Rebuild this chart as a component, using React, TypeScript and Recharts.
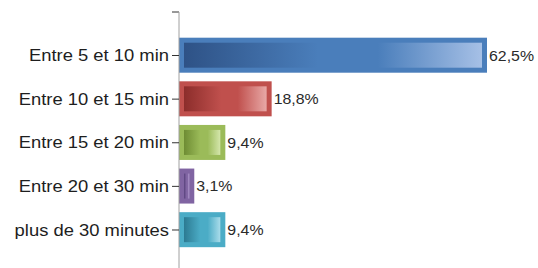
import React from 'react';
import { BarChart, Bar, XAxis, YAxis, LabelList, Customized } from 'recharts';

const categories = [
  'Entre 5 et 10 min',
  'Entre 10 et 15 min',
  'Entre 15 et 20 min',
  'Entre 20 et 30 min',
  'plus de 30 minutes',
];
const percents = [62.5, 18.8, 9.4, 3.1, 9.4];

// base / dark / light for each bar
const baseColors = ['#4a7ebb', '#c0504d', '#9bbb59', '#8064a2', '#4bacc6'];
const darkColors = ['#2e5286', '#8c2d2b', '#6e8c33', '#58427c', '#2c7a92'];
const lightColors = ['#a6c0e6', '#e8a8a6', '#d4e6ab', '#b9a3d6', '#a9dcea'];

const chartData = categories.map((name, i) => ({ name, value: percents[i] }));

const FONT = '"Liberation Sans", Arial, sans-serif';
const MARGIN = { top: 12, right: 51, bottom: 0, left: 0 };
const AXIS_W = 179;

const GlossBar = (props: any) => {
  const { x, y, width, height, index } = props;
  const inset = 5;
  const iw = Math.max(width - inset * 2, 0);
  return (
    <g>
      <rect x={x} y={y} width={width} height={height} fill={baseColors[index]} />
      {iw > 0 && (
        <rect
          x={x + inset}
          y={y + inset}
          width={iw}
          height={height - inset * 2}
          fill={`url(#grad${index})`}
        />
      )}
    </g>
  );
};

// the source picture looks horizontally stretched, so widen the text a bit
const CategoryTick = ({ x, y, payload }: any) => (
  <g transform={`translate(${x},${y})`}>
    <text
      x={0}
      y={0}
      dy="0.355em"
      textAnchor="end"
      transform="scale(1.15,1)"
      fill="#1e1e1e"
      fontSize={16}
      fontFamily={FONT}
    >
      {payload.value}
    </text>
  </g>
);

const PercentLabel = ({ x, y, width, height, value }: any) => (
  <g transform={`translate(${x + width + 2},${y + height / 2})`}>
    <text x={0} y={0} dy="0.355em" transform="scale(1.06,1)" fill="#2a2a2a" fontSize={15} fontFamily={FONT}>
      {`${Number(value).toFixed(1).replace('.', ',')}%`}
    </text>
  </g>
);

const TopTick = () => (
  <line x1={AXIS_W - 7} x2={AXIS_W} y1={MARGIN.top} y2={MARGIN.top} stroke="#333" />
);

export default function App() {
  return (
    <div style={{ position: 'absolute', left: 0, top: 0, background: '#fff' }}>
      <BarChart
        width={538}
        height={268}
        data={chartData}
        layout="vertical"
        margin={MARGIN}
        barSize={35}
      >
        <defs>
          {baseColors.map((c, i) => (
            <linearGradient key={i} id={`grad${i}`} x1="0" y1="0" x2="1" y2="0">
              <stop offset="0%" stopColor={darkColors[i]} />
              <stop offset="45%" stopColor={c} />
              <stop offset="65%" stopColor={c} />
              <stop offset="100%" stopColor={lightColors[i]} />
            </linearGradient>
          ))}
        </defs>
        <XAxis type="number" hide domain={[0, 62.5]} />
        <YAxis
          type="category"
          dataKey="name"
          width={AXIS_W}
          tickSize={7}
          tickMargin={3}
          padding={{ top: 21.7, bottom: 16.2 }}
          axisLine={{ stroke: '#a0a0a0' }}
          tickLine={{ stroke: '#333' }}
          tick={<CategoryTick />}
          interval={0}
        />
        <Customized component={<TopTick />} />
        <Bar dataKey="value" shape={<GlossBar />} isAnimationActive={false}>
          <LabelList dataKey="value" content={<PercentLabel />} />
        </Bar>
      </BarChart>
    </div>
  );
}
